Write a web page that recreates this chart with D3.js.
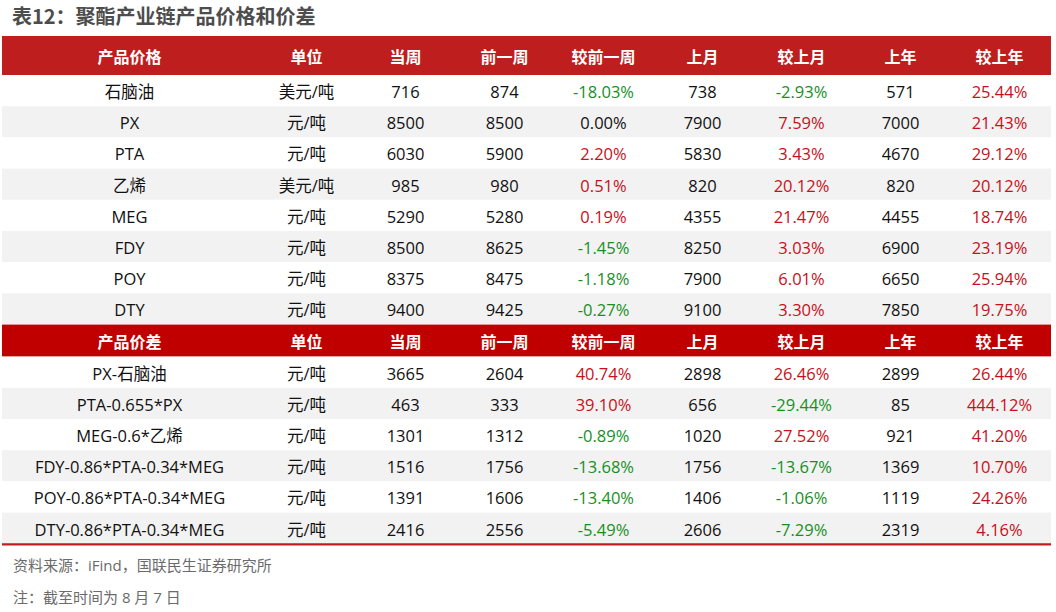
<!DOCTYPE html>
<html>
<head>
<meta charset="utf-8">
<script src="https://cdn.jsdelivr.net/npm/d3@7"></script>
<style>
  body { margin: 0; background: #fff; }
  svg text { font-family: "Open Sans", "Noto Sans CJK SC", sans-serif; }
</style>
</head>
<body>
<div id="app"></div>
<script>
// Data
const title = '表12：聚酯产业链产品价格和价差'
const headers1 = ['产品价格', '单位', '当周', '前一周', '较前一周', '上月', '较上月', '上年', '较上年']
const headers2 = ['产品价差', '单位', '当周', '前一周', '较前一周', '上月', '较上月', '上年', '较上年']

const priceNames = ['石脑油', 'PX', 'PTA', '乙烯', 'MEG', 'FDY', 'POY', 'DTY']
const priceUnits = ['美元/吨', '元/吨', '元/吨', '美元/吨', '元/吨', '元/吨', '元/吨', '元/吨']
const priceWeek = [716, 8500, 6030, 985, 5290, 8500, 8375, 9400]
const pricePrevWeek = [874, 8500, 5900, 980, 5280, 8625, 8475, 9425]
const priceChgWeek = [-18.03, 0.00, 2.20, 0.51, 0.19, -1.45, -1.18, -0.27]
const priceMonth = [738, 7900, 5830, 820, 4355, 8250, 7900, 9100]
const priceChgMonth = [-2.93, 7.59, 3.43, 20.12, 21.47, 3.03, 6.01, 3.30]
const priceYear = [571, 7000, 4670, 820, 4455, 6900, 6650, 7850]
const priceChgYear = [25.44, 21.43, 29.12, 20.12, 18.74, 23.19, 25.94, 19.75]

const spreadNames = ['PX-石脑油', 'PTA-0.655*PX', 'MEG-0.6*乙烯', 'FDY-0.86*PTA-0.34*MEG', 'POY-0.86*PTA-0.34*MEG', 'DTY-0.86*PTA-0.34*MEG']
const spreadUnits = ['元/吨', '元/吨', '元/吨', '元/吨', '元/吨', '元/吨']
const spreadWeek = [3665, 463, 1301, 1516, 1391, 2416]
const spreadPrevWeek = [2604, 333, 1312, 1756, 1606, 2556]
const spreadChgWeek = [40.74, 39.10, -0.89, -13.68, -13.40, -5.49]
const spreadMonth = [2898, 656, 1020, 1756, 1406, 2606]
const spreadChgMonth = [26.46, -29.44, 27.52, -13.67, -1.06, -7.29]
const spreadYear = [2899, 85, 921, 1369, 1119, 2319]
const spreadChgYear = [26.44, 444.12, 41.20, 10.70, 24.26, 4.16]

const notes = ['资料来源：iFind，国联民生证券研究所', '注：截至时间为 8 月 7 日']

// Layout
const width = 1056
const height = 612
const tableLeft = 2
const tableRight = 1051
const firstColW = 255
const rowH = 31.2

const colors = {
  head1: '#be1e1e', head2: '#c00000', stripe: '#f2f2f2',
  up: '#c8101a', down: '#17901f', text: '#111', note: '#6b6b6b', title: '#4d4d4d'
}

// Build table rows
function buildRows(names, units, wk, pwk, cwk, mo, cmo, yr, cyr) {
  return names.map((n, i) => [
    { v: n }, { v: units[i] }, { v: wk[i] }, { v: pwk[i] }, { v: cwk[i], pct: true },
    { v: mo[i] }, { v: cmo[i], pct: true }, { v: yr[i] }, { v: cyr[i], pct: true }
  ])
}
const priceRows = buildRows(priceNames, priceUnits, priceWeek, pricePrevWeek, priceChgWeek, priceMonth, priceChgMonth, priceYear, priceChgYear)
const spreadRows = buildRows(spreadNames, spreadUnits, spreadWeek, spreadPrevWeek, spreadChgWeek, spreadMonth, spreadChgMonth, spreadYear, spreadChgYear)

// Column scale: first column wide, the others equal bands
const xBand = d3.scaleBand()
  .domain(d3.range(1, headers1.length))
  .range([tableLeft + firstColW, tableRight - 2])
const colX = i => i === 0 ? tableLeft + firstColW / 2 : xBand(i) + xBand.bandwidth() / 2

const svg = d3.select('#app').append('svg')
  .attr('width', width)
  .attr('height', height)

svg.append('text')
  .attr('x', 12).attr('y', 24)
  .attr('font-size', 20).attr('font-weight', 700)
  .attr('fill', colors.title)
  .style('font-family', '"Noto Sans CJK SC", sans-serif')
  .text(title)

function section(top, headH, headColor, headers, rows) {
  const g = svg.append('g')
  g.append('rect')
    .attr('x', tableLeft).attr('y', top)
    .attr('width', tableRight - tableLeft).attr('height', headH)
    .attr('fill', headColor)
  g.selectAll('text.head').data(headers).join('text')
    .attr('class', 'head')
    .attr('x', (d, i) => colX(i))
    .attr('y', top + headH / 2)
    .attr('dy', '0.45em')
    .attr('text-anchor', 'middle')
    .attr('font-size', 16).attr('font-weight', 700)
    .attr('fill', '#fff')
    .style('font-family', '"Noto Sans CJK SC", sans-serif')
    .text(d => d)

  const y = d3.scaleBand()
    .domain(d3.range(rows.length))
    .range([top + headH, top + headH + rows.length * rowH])

  const row = g.selectAll('g.row').data(rows).join('g')
    .attr('class', 'row')
    .attr('transform', (d, i) => `translate(0,${y(i)})`)
  row.append('rect')
    .attr('x', tableLeft).attr('width', tableRight - tableLeft)
    .attr('height', y.bandwidth())
    .attr('fill', (d, i) => i % 2 ? colors.stripe : '#fff')
  row.selectAll('text').data(d => d).join('text')
    .attr('x', (d, i) => colX(i))
    .attr('y', y.bandwidth() / 2)
    .attr('dy', '0.45em')
    .attr('text-anchor', 'middle')
    .attr('font-size', 16.5)
    .attr('fill', d => !d.pct || d.v === 0 ? colors.text : (d.v > 0 ? colors.up : colors.down))
    .text(d => d.pct ? d.v.toFixed(2) + '%' : d.v)

  return top + headH + rows.length * rowH
}

const end1 = section(36, 39, colors.head1, headers1, priceRows)
const end2 = section(end1, 32, colors.head2, headers2, spreadRows)

svg.append('line')
  .attr('x1', tableLeft).attr('x2', tableRight)
  .attr('y1', end2 + 0.5).attr('y2', end2 + 0.5)
  .attr('stroke', colors.head1).attr('stroke-width', 2.2)

svg.selectAll('text.note').data(notes).join('text')
  .attr('class', 'note')
  .attr('x', 13)
  .attr('y', (d, i) => 571 + i * 32)
  .attr('font-size', 15)
  .attr('fill', colors.note)
  .text(d => d)
</script>
</body>
</html>
